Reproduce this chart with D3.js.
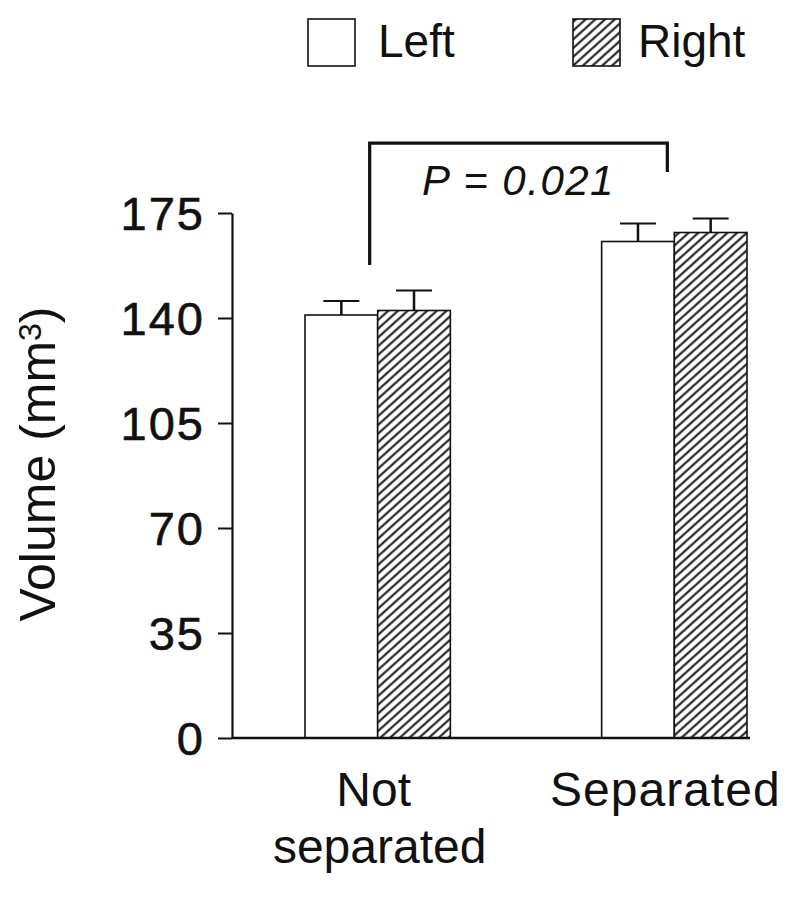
<!DOCTYPE html>
<html>
<head>
<meta charset="utf-8">
<script src="https://cdn.jsdelivr.net/npm/d3@7"></script>
<style>
  body { margin: 0; background: #fff; }
  svg { display: block; font-family: "Liberation Sans", Arial, sans-serif; }
</style>
</head>
<body>
<div id="chart"></div>
<script>
// data
const groups = ["Not separated", "Separated"];
const sides = ["Left", "Right"];
const leftMeans = [141, 165.5];
const rightMeans = [142.5, 168.5];
const leftErr = [4.7, 6];
const rightErr = [6.7, 4.7];
const yTicks = [0, 35, 70, 105, 140, 175];
const pLabel = "P = 0.021";

const width = 800, height = 899;

const svg = d3.select("#chart").append("svg")
  .attr("width", width)
  .attr("height", height);

// hatch pattern
const defs = svg.append("defs");
defs.append("pattern")
  .attr("id", "hatch")
  .attr("patternUnits", "userSpaceOnUse")
  .attr("width", 6.5)
  .attr("height", 6.5)
  .attr("patternTransform", "rotate(-42)")
  .call(p => {
    p.append("rect").attr("width", 6.5).attr("height", 6.5).attr("fill", "#fff");
    p.append("line").attr("x1", 0).attr("x2", 6.5).attr("y1", 3.25).attr("y2", 3.25)
      .attr("stroke", "#111").attr("stroke-width", 2);
  });

const fillFor = s => s === "Left" ? "#fff" : "url(#hatch)";

// scales
const y = d3.scaleLinear().domain([0, 175]).range([738, 213]);
const x0 = d3.scaleBand().domain(groups).range([305, 747]).paddingInner(0.51).paddingOuter(0);
const x1 = d3.scaleBand().domain(sides).range([0, x0.bandwidth()]);

const rows = [];
groups.forEach((g, i) => {
  rows.push({ group: g, side: "Left", value: leftMeans[i], err: leftErr[i] });
  rows.push({ group: g, side: "Right", value: rightMeans[i], err: rightErr[i] });
});

// bars
svg.append("g")
  .selectAll("rect")
  .data(rows)
  .join("rect")
  .attr("x", d => x0(d.group) + x1(d.side))
  .attr("y", d => y(d.value))
  .attr("width", x1.bandwidth())
  .attr("height", d => y(0) - y(d.value))
  .attr("fill", d => fillFor(d.side))
  .attr("stroke", "#111")
  .attr("stroke-width", 1.6);

// error bars (upper only)
const eb = svg.append("g").attr("stroke", "#111");
eb.selectAll("line.v")
  .data(rows)
  .join("line")
  .attr("class", "v")
  .attr("x1", d => x0(d.group) + x1(d.side) + x1.bandwidth() / 2)
  .attr("x2", d => x0(d.group) + x1(d.side) + x1.bandwidth() / 2)
  .attr("y1", d => y(d.value))
  .attr("y2", d => y(d.value + d.err))
  .attr("stroke-width", 2.5);
eb.selectAll("line.cap")
  .data(rows)
  .join("line")
  .attr("class", "cap")
  .attr("x1", d => x0(d.group) + x1(d.side) + x1.bandwidth() / 2 - 18)
  .attr("x2", d => x0(d.group) + x1(d.side) + x1.bandwidth() / 2 + 18)
  .attr("y1", d => y(d.value + d.err))
  .attr("y2", d => y(d.value + d.err))
  .attr("stroke-width", 2);

// y axis
const yAxis = svg.append("g")
  .attr("transform", "translate(232,0)")
  .call(d3.axisLeft(y).tickValues(yTicks).tickSize(14).tickSizeOuter(0).tickPadding(13));
yAxis.select(".domain").attr("stroke", "#111").attr("stroke-width", 2.2);
yAxis.selectAll(".tick line").attr("stroke", "#111").attr("stroke-width", 2);
yAxis.selectAll(".tick text")
  .attr("fill", "#111")
  .attr("stroke", "#111")
  .attr("stroke-width", 0.6)
  .style("font-size", "47px")
  .style("letter-spacing", "2px")
  .style("font-family", "'Liberation Sans', Arial, sans-serif")
  .attr("dy", "0.36em");

// x baseline
svg.append("line")
  .attr("x1", 232).attr("x2", x0.range()[1] + 3)
  .attr("y1", y(0)).attr("y2", y(0))
  .attr("stroke", "#111").attr("stroke-width", 2.5);

// x labels
const xLab = svg.append("g").style("font-size", "48px").attr("fill", "#111").attr("text-anchor", "middle");
groups.forEach(g => {
  const cx = x0(g) + x0.bandwidth() / 2;
  const t = xLab.append("text").attr("x", cx).attr("y", 806);
  if (g === "Not separated") {
    t.append("tspan").attr("x", cx - 4).text("Not");
    t.append("tspan").attr("x", cx + 2).attr("dy", 57).text("separated");
  } else {
    t.attr("x", cx - 9).style("letter-spacing", "1px").text(g);
  }
});

// y title
const yt = svg.append("text")
  .attr("transform", "translate(55,464) rotate(-90)")
  .attr("text-anchor", "middle")
  .attr("fill", "#111")
  .style("font-size", "50px");
yt.append("tspan").text("Volume (mm");
yt.append("tspan").attr("dy", -14).style("font-size", "32px").text("3");
yt.append("tspan").attr("dy", 14).text(")");

// significance bracket
const bxL = x0(groups[0]) + x0.bandwidth() / 2 - 8;
const bxR = x0(groups[1]) + x0.bandwidth() / 2 - 7;
svg.append("path")
  .attr("d", d3.line()([[bxL, y(157.7)], [bxL, y(198.3)], [bxR, y(198.3)], [bxR, y(188.7)]]))
  .attr("fill", "none")
  .attr("stroke", "#111")
  .attr("stroke-width", 3.2);
svg.append("text")
  .attr("x", (bxL + bxR) / 2)
  .attr("y", y(181))
  .attr("text-anchor", "middle")
  .attr("fill", "#111")
  .style("font-size", "42px")
  .style("letter-spacing", "1.5px")
  .style("font-style", "italic")
  .text(pLabel);

// legend
const legend = svg.append("g");
const legX = [308, 573];
sides.forEach((s, i) => {
  legend.append("rect")
    .attr("x", legX[i]).attr("y", 19)
    .attr("width", 47).attr("height", 47)
    .attr("fill", fillFor(s))
    .attr("stroke", "#111").attr("stroke-width", 1.6);
  legend.append("text")
    .attr("x", legX[i] + (i === 0 ? 70 : 65))
    .attr("y", 57)
    .attr("fill", "#111")
    .style("font-size", "46px")
    .text(s);
});
</script>
</body>
</html>
